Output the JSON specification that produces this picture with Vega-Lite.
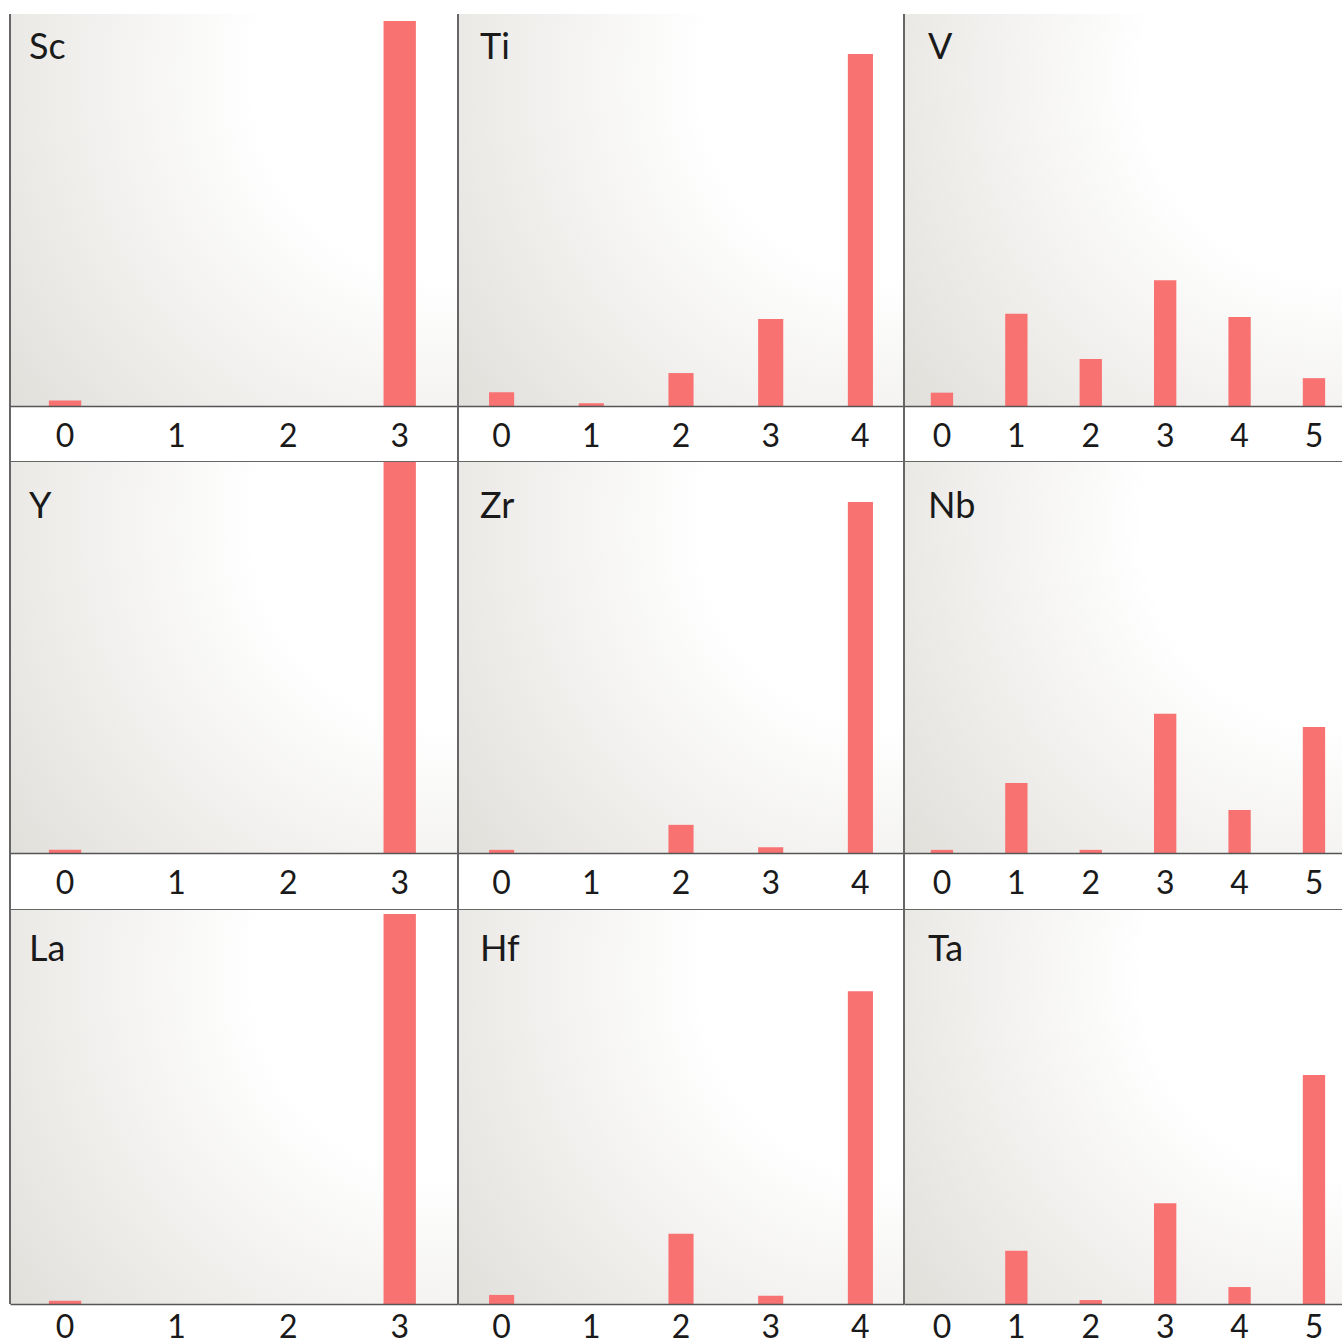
{
  "$schema": "https://vega.github.io/schema/vega-lite/v6.json",
  "background": "white",
  "padding": {"left": 9, "top": 13, "right": 0, "bottom": 0},
  "config": {"view": {"stroke": null}, "font": "Lato"},
  "datasets": {
    "Sc": [{"ox": "0", "v": 0.014}, {"ox": "1", "v": 0}, {"ox": "2", "v": 0}, {"ox": "3", "v": 0.982}],
    "Ti": [{"ox": "0", "v": 0.035}, {"ox": "1", "v": 0.007}, {"ox": "2", "v": 0.084}, {"ox": "3", "v": 0.222}, {"ox": "4", "v": 0.898}],
    "V": [{"ox": "0", "v": 0.034}, {"ox": "1", "v": 0.235}, {"ox": "2", "v": 0.12}, {"ox": "3", "v": 0.321}, {"ox": "4", "v": 0.227}, {"ox": "5", "v": 0.071}],
    "Y": [{"ox": "0", "v": 0.008}, {"ox": "1", "v": 0}, {"ox": "2", "v": 0}, {"ox": "3", "v": 1.0}],
    "Zr": [{"ox": "0", "v": 0.008}, {"ox": "1", "v": 0}, {"ox": "2", "v": 0.072}, {"ox": "3", "v": 0.015}, {"ox": "4", "v": 0.898}],
    "Nb": [{"ox": "0", "v": 0.008}, {"ox": "1", "v": 0.179}, {"ox": "2", "v": 0.008}, {"ox": "3", "v": 0.356}, {"ox": "4", "v": 0.11}, {"ox": "5", "v": 0.322}],
    "La": [{"ox": "0", "v": 0.008}, {"ox": "1", "v": 0}, {"ox": "2", "v": 0}, {"ox": "3", "v": 0.99}],
    "Hf": [{"ox": "0", "v": 0.023}, {"ox": "1", "v": 0}, {"ox": "2", "v": 0.178}, {"ox": "3", "v": 0.021}, {"ox": "4", "v": 0.794}],
    "Ta": [{"ox": "0", "v": 0}, {"ox": "1", "v": 0.135}, {"ox": "2", "v": 0.01}, {"ox": "3", "v": 0.256}, {"ox": "4", "v": 0.043}, {"ox": "5", "v": 0.581}]
  },
  "columns": 3,
  "spacing": 0,
  "bounds": "flush",
  "concat": [
    {
      "width": 448, "height": 448,
      "layer": [
        {"data": {"values": [{}]}, "mark": {"type": "rect", "color": {"gradient": "radial", "x1": 1, "y1": 0.2, "r1": 0, "x2": 1, "y2": 0.2, "r2": 1.3, "stops": [{"offset": 0, "color": "#ffffff"}, {"offset": 0.35, "color": "#ffffff"}, {"offset": 1, "color": "#dfddd8"}]}},
         "encoding": {"x": {"datum": 0, "type": "quantitative", "scale": {"domain": [0, 1]}, "axis": null}, "x2": {"datum": 1},
                      "y": {"datum": 0, "type": "quantitative", "scale": {"domain": [-0.1429, 1], "nice": false, "zero": false}, "axis": null}, "y2": {"datum": 1}}},
        {"data": {"name": "Sc"}, "mark": {"type": "bar", "color": "#F97272"},
         "encoding": {"x": {"field": "ox", "type": "ordinal", "scale": {"paddingInner": 0.71, "paddingOuter": 0.363, "align": 0.48},
                            "axis": {"title": null, "ticks": false, "domain": true, "domainColor": "#555", "domainWidth": 1.5, "labelAngle": 0, "labelFont": "Lato", "labelFontSize": 32, "labelColor": "#1a1a1a", "labelPadding": 15, "labelBaseline": "top", "offset": -56, "grid": false, "zindex": 1}},
                      "y": {"field": "v", "type": "quantitative", "scale": {"domain": [-0.1429, 1], "nice": false, "zero": false}, "axis": null}}},
        {"data": {"values": [{}]}, "mark": {"type": "rule", "color": "#666", "strokeWidth": 2},
         "encoding": {"x": {"datum": 0, "type": "quantitative", "scale": {"domain": [0, 1]}, "axis": null}, "y": {"datum": -0.1429, "type": "quantitative"}, "y2": {"datum": 1}}},
        {"data": {"values": [{}]}, "mark": {"type": "rule", "color": "#666", "strokeWidth": 2},
         "encoding": {"x": {"datum": 0, "type": "quantitative", "scale": {"domain": [0, 1]}, "axis": null}, "x2": {"datum": 1}, "y": {"datum": -0.1429, "type": "quantitative"}}},
        {"data": {"values": [{"el": "Sc"}]}, "mark": {"type": "text", "font": "Lato", "fontSize": 36, "color": "#1a1a1a", "align": "left", "baseline": "alphabetic", "dx": 19, "dy": 45},
         "encoding": {"x": {"datum": 0, "type": "quantitative", "scale": {"domain": [0, 1]}, "axis": null}, "y": {"datum": 1, "type": "quantitative"}, "text": {"field": "el"}}}
      ],
      "resolve": {"scale": {"x": "independent"}}
    },
    {
      "width": 446, "height": 448,
      "layer": [
        {"data": {"values": [{}]}, "mark": {"type": "rect", "color": {"gradient": "radial", "x1": 1, "y1": 0.2, "r1": 0, "x2": 1, "y2": 0.2, "r2": 1.3, "stops": [{"offset": 0, "color": "#ffffff"}, {"offset": 0.35, "color": "#ffffff"}, {"offset": 1, "color": "#dfddd8"}]}},
         "encoding": {"x": {"datum": 0, "type": "quantitative", "scale": {"domain": [0, 1]}, "axis": null}, "x2": {"datum": 1},
                      "y": {"datum": 0, "type": "quantitative", "scale": {"domain": [-0.1429, 1], "nice": false, "zero": false}, "axis": null}, "y2": {"datum": 1}}},
        {"data": {"name": "Ti"}, "mark": {"type": "bar", "color": "#F97272"},
         "encoding": {"x": {"field": "ox", "type": "ordinal", "scale": {"paddingInner": 0.72, "paddingOuter": 0.346, "align": 0.5},
                            "axis": {"title": null, "ticks": false, "domain": true, "domainColor": "#555", "domainWidth": 1.5, "labelAngle": 0, "labelFont": "Lato", "labelFontSize": 32, "labelColor": "#1a1a1a", "labelPadding": 15, "labelBaseline": "top", "offset": -56, "grid": false, "zindex": 1}},
                      "y": {"field": "v", "type": "quantitative", "scale": {"domain": [-0.1429, 1], "nice": false, "zero": false}, "axis": null}}},
        {"data": {"values": [{}]}, "mark": {"type": "rule", "color": "#666", "strokeWidth": 2},
         "encoding": {"x": {"datum": 0, "type": "quantitative", "scale": {"domain": [0, 1]}, "axis": null}, "y": {"datum": -0.1429, "type": "quantitative"}, "y2": {"datum": 1}}},
        {"data": {"values": [{}]}, "mark": {"type": "rule", "color": "#666", "strokeWidth": 2},
         "encoding": {"x": {"datum": 0, "type": "quantitative", "scale": {"domain": [0, 1]}, "axis": null}, "x2": {"datum": 1}, "y": {"datum": -0.1429, "type": "quantitative"}}},
        {"data": {"values": [{"el": "Ti"}]}, "mark": {"type": "text", "font": "Lato", "fontSize": 36, "color": "#1a1a1a", "align": "left", "baseline": "alphabetic", "dx": 22, "dy": 45},
         "encoding": {"x": {"datum": 0, "type": "quantitative", "scale": {"domain": [0, 1]}, "axis": null}, "y": {"datum": 1, "type": "quantitative"}, "text": {"field": "el"}}}
      ],
      "resolve": {"scale": {"x": "independent"}}
    },
    {
      "width": 439, "height": 448,
      "layer": [
        {"data": {"values": [{}]}, "mark": {"type": "rect", "color": {"gradient": "radial", "x1": 1, "y1": 0.2, "r1": 0, "x2": 1, "y2": 0.2, "r2": 1.3, "stops": [{"offset": 0, "color": "#ffffff"}, {"offset": 0.35, "color": "#ffffff"}, {"offset": 1, "color": "#dfddd8"}]}},
         "encoding": {"x": {"datum": 0, "type": "quantitative", "scale": {"domain": [0, 1]}, "axis": null}, "x2": {"datum": 1},
                      "y": {"datum": 0, "type": "quantitative", "scale": {"domain": [-0.1429, 1], "nice": false, "zero": false}, "axis": null}, "y2": {"datum": 1}}},
        {"data": {"name": "V"}, "mark": {"type": "bar", "color": "#F97272"},
         "encoding": {"x": {"field": "ox", "type": "ordinal", "scale": {"paddingInner": 0.7, "paddingOuter": 0.3, "align": 0.6},
                            "axis": {"title": null, "ticks": false, "domain": true, "domainColor": "#555", "domainWidth": 1.5, "labelAngle": 0, "labelFont": "Lato", "labelFontSize": 32, "labelColor": "#1a1a1a", "labelPadding": 15, "labelBaseline": "top", "offset": -56, "grid": false, "zindex": 1}},
                      "y": {"field": "v", "type": "quantitative", "scale": {"domain": [-0.1429, 1], "nice": false, "zero": false}, "axis": null}}},
        {"data": {"values": [{}]}, "mark": {"type": "rule", "color": "#666", "strokeWidth": 2},
         "encoding": {"x": {"datum": 0, "type": "quantitative", "scale": {"domain": [0, 1]}, "axis": null}, "y": {"datum": -0.1429, "type": "quantitative"}, "y2": {"datum": 1}}},
        {"data": {"values": [{}]}, "mark": {"type": "rule", "color": "#666", "strokeWidth": 2},
         "encoding": {"x": {"datum": 0, "type": "quantitative", "scale": {"domain": [0, 1]}, "axis": null}, "x2": {"datum": 1}, "y": {"datum": -0.1429, "type": "quantitative"}}},
        {"data": {"values": [{"el": "V"}]}, "mark": {"type": "text", "font": "Lato", "fontSize": 36, "color": "#1a1a1a", "align": "left", "baseline": "alphabetic", "dx": 24, "dy": 45},
         "encoding": {"x": {"datum": 0, "type": "quantitative", "scale": {"domain": [0, 1]}, "axis": null}, "y": {"datum": 1, "type": "quantitative"}, "text": {"field": "el"}}}
      ],
      "resolve": {"scale": {"x": "independent"}}
    },
    {
      "width": 448, "height": 448,
      "layer": [
        {"data": {"values": [{}]}, "mark": {"type": "rect", "color": {"gradient": "radial", "x1": 1, "y1": 0.2, "r1": 0, "x2": 1, "y2": 0.2, "r2": 1.3, "stops": [{"offset": 0, "color": "#ffffff"}, {"offset": 0.35, "color": "#ffffff"}, {"offset": 1, "color": "#dfddd8"}]}},
         "encoding": {"x": {"datum": 0, "type": "quantitative", "scale": {"domain": [0, 1]}, "axis": null}, "x2": {"datum": 1},
                      "y": {"datum": 0, "type": "quantitative", "scale": {"domain": [-0.1458, 1], "nice": false, "zero": false}, "axis": null}, "y2": {"datum": 1}}},
        {"data": {"name": "Y"}, "mark": {"type": "bar", "color": "#F97272"},
         "encoding": {"x": {"field": "ox", "type": "ordinal", "scale": {"paddingInner": 0.71, "paddingOuter": 0.363, "align": 0.48},
                            "axis": {"title": null, "ticks": false, "domain": true, "domainColor": "#555", "domainWidth": 1.5, "labelAngle": 0, "labelFont": "Lato", "labelFontSize": 32, "labelColor": "#1a1a1a", "labelPadding": 15, "labelBaseline": "top", "offset": -57, "grid": false, "zindex": 1}},
                      "y": {"field": "v", "type": "quantitative", "scale": {"domain": [-0.1458, 1], "nice": false, "zero": false}, "axis": null}}},
        {"data": {"values": [{}]}, "mark": {"type": "rule", "color": "#666", "strokeWidth": 2},
         "encoding": {"x": {"datum": 0, "type": "quantitative", "scale": {"domain": [0, 1]}, "axis": null}, "y": {"datum": -0.1458, "type": "quantitative"}, "y2": {"datum": 1}}},
        {"data": {"values": [{}]}, "mark": {"type": "rule", "color": "#666", "strokeWidth": 2},
         "encoding": {"x": {"datum": 0, "type": "quantitative", "scale": {"domain": [0, 1]}, "axis": null}, "x2": {"datum": 1}, "y": {"datum": -0.1458, "type": "quantitative"}}},
        {"data": {"values": [{"el": "Y"}]}, "mark": {"type": "text", "font": "Lato", "fontSize": 36, "color": "#1a1a1a", "align": "left", "baseline": "alphabetic", "dx": 19, "dy": 56},
         "encoding": {"x": {"datum": 0, "type": "quantitative", "scale": {"domain": [0, 1]}, "axis": null}, "y": {"datum": 1, "type": "quantitative"}, "text": {"field": "el"}}}
      ],
      "resolve": {"scale": {"x": "independent"}}
    },
    {
      "width": 446, "height": 448,
      "layer": [
        {"data": {"values": [{}]}, "mark": {"type": "rect", "color": {"gradient": "radial", "x1": 1, "y1": 0.2, "r1": 0, "x2": 1, "y2": 0.2, "r2": 1.3, "stops": [{"offset": 0, "color": "#ffffff"}, {"offset": 0.35, "color": "#ffffff"}, {"offset": 1, "color": "#dfddd8"}]}},
         "encoding": {"x": {"datum": 0, "type": "quantitative", "scale": {"domain": [0, 1]}, "axis": null}, "x2": {"datum": 1},
                      "y": {"datum": 0, "type": "quantitative", "scale": {"domain": [-0.1458, 1], "nice": false, "zero": false}, "axis": null}, "y2": {"datum": 1}}},
        {"data": {"name": "Zr"}, "mark": {"type": "bar", "color": "#F97272"},
         "encoding": {"x": {"field": "ox", "type": "ordinal", "scale": {"paddingInner": 0.72, "paddingOuter": 0.346, "align": 0.5},
                            "axis": {"title": null, "ticks": false, "domain": true, "domainColor": "#555", "domainWidth": 1.5, "labelAngle": 0, "labelFont": "Lato", "labelFontSize": 32, "labelColor": "#1a1a1a", "labelPadding": 15, "labelBaseline": "top", "offset": -57, "grid": false, "zindex": 1}},
                      "y": {"field": "v", "type": "quantitative", "scale": {"domain": [-0.1458, 1], "nice": false, "zero": false}, "axis": null}}},
        {"data": {"values": [{}]}, "mark": {"type": "rule", "color": "#666", "strokeWidth": 2},
         "encoding": {"x": {"datum": 0, "type": "quantitative", "scale": {"domain": [0, 1]}, "axis": null}, "y": {"datum": -0.1458, "type": "quantitative"}, "y2": {"datum": 1}}},
        {"data": {"values": [{}]}, "mark": {"type": "rule", "color": "#666", "strokeWidth": 2},
         "encoding": {"x": {"datum": 0, "type": "quantitative", "scale": {"domain": [0, 1]}, "axis": null}, "x2": {"datum": 1}, "y": {"datum": -0.1458, "type": "quantitative"}}},
        {"data": {"values": [{"el": "Zr"}]}, "mark": {"type": "text", "font": "Lato", "fontSize": 36, "color": "#1a1a1a", "align": "left", "baseline": "alphabetic", "dx": 22, "dy": 56},
         "encoding": {"x": {"datum": 0, "type": "quantitative", "scale": {"domain": [0, 1]}, "axis": null}, "y": {"datum": 1, "type": "quantitative"}, "text": {"field": "el"}}}
      ],
      "resolve": {"scale": {"x": "independent"}}
    },
    {
      "width": 439, "height": 448,
      "layer": [
        {"data": {"values": [{}]}, "mark": {"type": "rect", "color": {"gradient": "radial", "x1": 1, "y1": 0.2, "r1": 0, "x2": 1, "y2": 0.2, "r2": 1.3, "stops": [{"offset": 0, "color": "#ffffff"}, {"offset": 0.35, "color": "#ffffff"}, {"offset": 1, "color": "#dfddd8"}]}},
         "encoding": {"x": {"datum": 0, "type": "quantitative", "scale": {"domain": [0, 1]}, "axis": null}, "x2": {"datum": 1},
                      "y": {"datum": 0, "type": "quantitative", "scale": {"domain": [-0.1458, 1], "nice": false, "zero": false}, "axis": null}, "y2": {"datum": 1}}},
        {"data": {"name": "Nb"}, "mark": {"type": "bar", "color": "#F97272"},
         "encoding": {"x": {"field": "ox", "type": "ordinal", "scale": {"paddingInner": 0.7, "paddingOuter": 0.3, "align": 0.6},
                            "axis": {"title": null, "ticks": false, "domain": true, "domainColor": "#555", "domainWidth": 1.5, "labelAngle": 0, "labelFont": "Lato", "labelFontSize": 32, "labelColor": "#1a1a1a", "labelPadding": 15, "labelBaseline": "top", "offset": -57, "grid": false, "zindex": 1}},
                      "y": {"field": "v", "type": "quantitative", "scale": {"domain": [-0.1458, 1], "nice": false, "zero": false}, "axis": null}}},
        {"data": {"values": [{}]}, "mark": {"type": "rule", "color": "#666", "strokeWidth": 2},
         "encoding": {"x": {"datum": 0, "type": "quantitative", "scale": {"domain": [0, 1]}, "axis": null}, "y": {"datum": -0.1458, "type": "quantitative"}, "y2": {"datum": 1}}},
        {"data": {"values": [{}]}, "mark": {"type": "rule", "color": "#666", "strokeWidth": 2},
         "encoding": {"x": {"datum": 0, "type": "quantitative", "scale": {"domain": [0, 1]}, "axis": null}, "x2": {"datum": 1}, "y": {"datum": -0.1458, "type": "quantitative"}}},
        {"data": {"values": [{"el": "Nb"}]}, "mark": {"type": "text", "font": "Lato", "fontSize": 36, "color": "#1a1a1a", "align": "left", "baseline": "alphabetic", "dx": 24, "dy": 56},
         "encoding": {"x": {"datum": 0, "type": "quantitative", "scale": {"domain": [0, 1]}, "axis": null}, "y": {"datum": 1, "type": "quantitative"}, "text": {"field": "el"}}}
      ],
      "resolve": {"scale": {"x": "independent"}}
    },
    {
      "width": 448, "height": 435,
      "layer": [
        {"data": {"values": [{}]}, "mark": {"type": "rect", "color": {"gradient": "radial", "x1": 1, "y1": 0.2, "r1": 0, "x2": 1, "y2": 0.2, "r2": 1.3, "stops": [{"offset": 0, "color": "#ffffff"}, {"offset": 0.35, "color": "#ffffff"}, {"offset": 1, "color": "#dfddd8"}]}},
         "encoding": {"x": {"datum": 0, "type": "quantitative", "scale": {"domain": [0, 1]}, "axis": null}, "x2": {"datum": 1},
                      "y": {"datum": 0, "type": "quantitative", "scale": {"domain": [-0.1041, 1], "nice": false, "zero": false}, "axis": null}, "y2": {"datum": 1}}},
        {"data": {"name": "La"}, "mark": {"type": "bar", "color": "#F97272"},
         "encoding": {"x": {"field": "ox", "type": "ordinal", "scale": {"paddingInner": 0.71, "paddingOuter": 0.363, "align": 0.48},
                            "axis": {"title": null, "ticks": false, "domain": true, "domainColor": "#555", "domainWidth": 1.5, "labelAngle": 0, "labelFont": "Lato", "labelFontSize": 32, "labelColor": "#1a1a1a", "labelPadding": 8, "labelBaseline": "top", "offset": -41, "grid": false, "zindex": 1}},
                      "y": {"field": "v", "type": "quantitative", "scale": {"domain": [-0.1041, 1], "nice": false, "zero": false}, "axis": null}}},
        {"data": {"values": [{}]}, "mark": {"type": "rule", "color": "#666", "strokeWidth": 2},
         "encoding": {"x": {"datum": 0, "type": "quantitative", "scale": {"domain": [0, 1]}, "axis": null}, "y": {"datum": 0, "type": "quantitative"}, "y2": {"datum": 1}}},
        {"data": {"values": [{"el": "La"}]}, "mark": {"type": "text", "font": "Lato", "fontSize": 36, "color": "#1a1a1a", "align": "left", "baseline": "alphabetic", "dx": 19, "dy": 51},
         "encoding": {"x": {"datum": 0, "type": "quantitative", "scale": {"domain": [0, 1]}, "axis": null}, "y": {"datum": 1, "type": "quantitative"}, "text": {"field": "el"}}}
      ],
      "resolve": {"scale": {"x": "independent"}}
    },
    {
      "width": 446, "height": 435,
      "layer": [
        {"data": {"values": [{}]}, "mark": {"type": "rect", "color": {"gradient": "radial", "x1": 1, "y1": 0.2, "r1": 0, "x2": 1, "y2": 0.2, "r2": 1.3, "stops": [{"offset": 0, "color": "#ffffff"}, {"offset": 0.35, "color": "#ffffff"}, {"offset": 1, "color": "#dfddd8"}]}},
         "encoding": {"x": {"datum": 0, "type": "quantitative", "scale": {"domain": [0, 1]}, "axis": null}, "x2": {"datum": 1},
                      "y": {"datum": 0, "type": "quantitative", "scale": {"domain": [-0.1041, 1], "nice": false, "zero": false}, "axis": null}, "y2": {"datum": 1}}},
        {"data": {"name": "Hf"}, "mark": {"type": "bar", "color": "#F97272"},
         "encoding": {"x": {"field": "ox", "type": "ordinal", "scale": {"paddingInner": 0.72, "paddingOuter": 0.346, "align": 0.5},
                            "axis": {"title": null, "ticks": false, "domain": true, "domainColor": "#555", "domainWidth": 1.5, "labelAngle": 0, "labelFont": "Lato", "labelFontSize": 32, "labelColor": "#1a1a1a", "labelPadding": 8, "labelBaseline": "top", "offset": -41, "grid": false, "zindex": 1}},
                      "y": {"field": "v", "type": "quantitative", "scale": {"domain": [-0.1041, 1], "nice": false, "zero": false}, "axis": null}}},
        {"data": {"values": [{}]}, "mark": {"type": "rule", "color": "#666", "strokeWidth": 2},
         "encoding": {"x": {"datum": 0, "type": "quantitative", "scale": {"domain": [0, 1]}, "axis": null}, "y": {"datum": 0, "type": "quantitative"}, "y2": {"datum": 1}}},
        {"data": {"values": [{"el": "Hf"}]}, "mark": {"type": "text", "font": "Lato", "fontSize": 36, "color": "#1a1a1a", "align": "left", "baseline": "alphabetic", "dx": 22, "dy": 51},
         "encoding": {"x": {"datum": 0, "type": "quantitative", "scale": {"domain": [0, 1]}, "axis": null}, "y": {"datum": 1, "type": "quantitative"}, "text": {"field": "el"}}}
      ],
      "resolve": {"scale": {"x": "independent"}}
    },
    {
      "width": 439, "height": 435,
      "layer": [
        {"data": {"values": [{}]}, "mark": {"type": "rect", "color": {"gradient": "radial", "x1": 1, "y1": 0.2, "r1": 0, "x2": 1, "y2": 0.2, "r2": 1.3, "stops": [{"offset": 0, "color": "#ffffff"}, {"offset": 0.35, "color": "#ffffff"}, {"offset": 1, "color": "#dfddd8"}]}},
         "encoding": {"x": {"datum": 0, "type": "quantitative", "scale": {"domain": [0, 1]}, "axis": null}, "x2": {"datum": 1},
                      "y": {"datum": 0, "type": "quantitative", "scale": {"domain": [-0.1041, 1], "nice": false, "zero": false}, "axis": null}, "y2": {"datum": 1}}},
        {"data": {"name": "Ta"}, "mark": {"type": "bar", "color": "#F97272"},
         "encoding": {"x": {"field": "ox", "type": "ordinal", "scale": {"paddingInner": 0.7, "paddingOuter": 0.3, "align": 0.6},
                            "axis": {"title": null, "ticks": false, "domain": true, "domainColor": "#555", "domainWidth": 1.5, "labelAngle": 0, "labelFont": "Lato", "labelFontSize": 32, "labelColor": "#1a1a1a", "labelPadding": 8, "labelBaseline": "top", "offset": -41, "grid": false, "zindex": 1}},
                      "y": {"field": "v", "type": "quantitative", "scale": {"domain": [-0.1041, 1], "nice": false, "zero": false}, "axis": null}}},
        {"data": {"values": [{}]}, "mark": {"type": "rule", "color": "#666", "strokeWidth": 2},
         "encoding": {"x": {"datum": 0, "type": "quantitative", "scale": {"domain": [0, 1]}, "axis": null}, "y": {"datum": 0, "type": "quantitative"}, "y2": {"datum": 1}}},
        {"data": {"values": [{"el": "Ta"}]}, "mark": {"type": "text", "font": "Lato", "fontSize": 36, "color": "#1a1a1a", "align": "left", "baseline": "alphabetic", "dx": 24, "dy": 51},
         "encoding": {"x": {"datum": 0, "type": "quantitative", "scale": {"domain": [0, 1]}, "axis": null}, "y": {"datum": 1, "type": "quantitative"}, "text": {"field": "el"}}}
      ],
      "resolve": {"scale": {"x": "independent"}}
    }
  ]
}
